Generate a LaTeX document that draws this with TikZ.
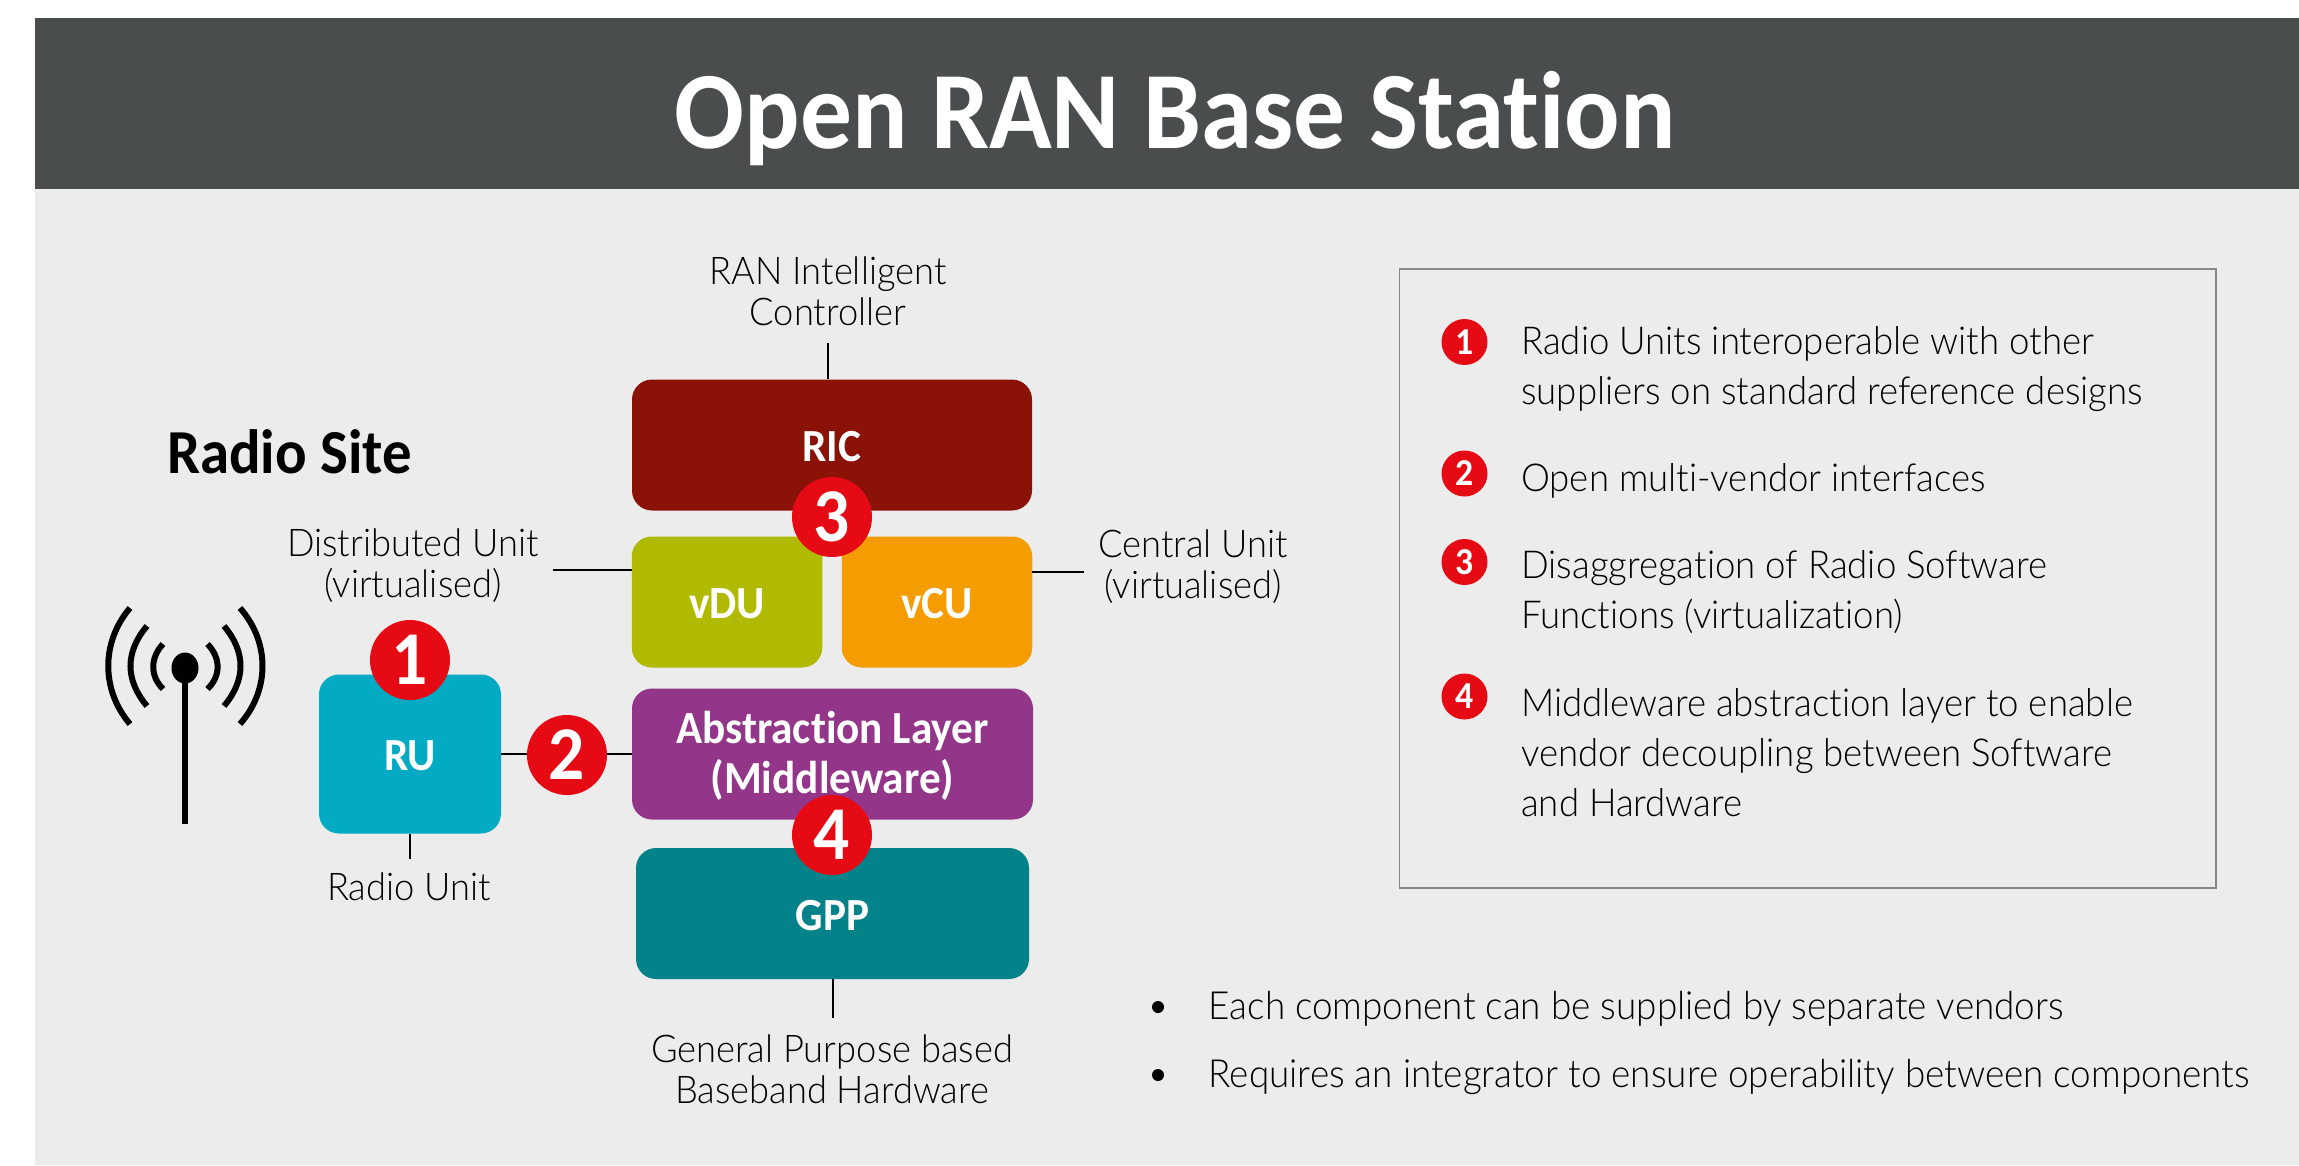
\documentclass[tikz,border=0pt]{standalone}
\usepackage{fontspec}
\usetikzlibrary{shapes.geometric}
\setmainfont{Lato Light}[FakeStretch=0.95,Ligatures=NoCommon]
\newfontfamily\crl{Carlito}[FakeStretch=0.94,Ligatures=NoCommon]
\newcommand{\bfnt}{\crl\bfseries}
\definecolor{hdr}{HTML}{4A4D4E}
\definecolor{panel}{HTML}{ECECEC}
\definecolor{ric}{HTML}{8A1206}
\definecolor{vdu}{HTML}{B0BA00}
\definecolor{vcu}{HTML}{F59D00}
\definecolor{abl}{HTML}{93368A}
\definecolor{gpp}{HTML}{04828A}
\definecolor{ruc}{HTML}{02AAC4}
\definecolor{vred}{HTML}{E60A14}
\definecolor{boxline}{HTML}{888888}
\tikzset{
 x=1pt,y=-1pt,
 boxn/.style={rectangle,rounded corners=20pt,inner sep=0pt,text=white,font=\bfnt\fontsize{46}{50}\selectfont,align=center},
 onel/.style={text height=33pt,text depth=0pt},
 badge/.style={circle,fill=vred,inner sep=0pt,minimum size=80pt,text=white,font=\bfnt\fontsize{76}{76}\selectfont},
 sbadge/.style={circle,fill=vred,inner sep=0pt,minimum size=46pt,text=white,font=\bfnt\fontsize{38}{38}\selectfont},
 lbl/.style={inner sep=0pt,align=center,text=black,font=\fontsize{38.2}{41}\selectfont},
 listt/.style={inner sep=0pt,anchor=west,align=left,text=black,font=\fontsize{38.5}{50}\selectfont},
 bullt/.style={listt,font=\fontsize{38.8}{50}\selectfont},
 conn/.style={draw=black,line width=2pt},
 wave/.style={draw=black,line width=6pt},
 dotn/.style={circle,fill=black,inner sep=0pt,minimum size=12pt},
}
\begin{document}
\begin{tikzpicture}
\useasboundingbox (0,0) rectangle (2299,1165);
\fill[panel] (35,189) rectangle (2299,1165);
\node[fill=hdr,inner sep=0pt,minimum width=2264pt,minimum height=171pt,anchor=north west] (header) at (35,18) {};
\node[anchor=base,inner sep=0pt,text=white,font=\bfnt\fontsize{110}{110}\selectfont] (title) at (1175,148) {Open RAN Base Station};
\node[anchor=base west,inner sep=0pt,text=black,font=\bfnt\fontsize{62.6}{62}\selectfont] (site) at (167,473) {Radio Site};
% boxes
\node[boxn,onel,fill=ric,minimum width=400pt,minimum height=131pt] (RIC) at (832,445) {RIC};
\node[boxn,onel,fill=vdu,minimum width=190.5pt,minimum height=131pt] (vDU) at (727,602) {vDU};
\node[boxn,onel,fill=vcu,minimum width=190.5pt,minimum height=131pt] (vCU) at (937,602) {vCU};
\node[boxn,fill=abl,minimum width=401pt,minimum height=131pt,text height=89pt,text depth=11pt] (AL) at (832.5,754) {Abstraction Layer\\(Middleware)};
\node[boxn,onel,fill=gpp,minimum width=393pt,minimum height=131pt] (GPP) at (832.5,913.5) {GPP};
\node[boxn,onel,fill=ruc,minimum width=182pt,minimum height=159pt] (RU) at (410,754) {RU};
% labels
\node[lbl] (ricl) at (828,291) {RAN Intelligent\\Controller};
\node[lbl] (dul) at (413,566) {Distributed Unit\\(virtualised)};
\node[lbl] (cul) at (1193,566.5) {Central Unit\\(virtualised)};
\node[lbl] (rul) at (409,887) {Radio Unit};
\node[lbl] (gppl) at (832,1069) {General Purpose based\\Baseband Hardware};
% connectors
\coordinate (ricend) at (828,343);
\coordinate (duend) at (553,570);
\coordinate (cuend) at (1083.5,572);
\coordinate (ruend) at (410,859);
\coordinate (gppend) at (832.5,1018);
\draw[conn] (ricend) -- (ricend |- RIC.north);
\draw[conn] (duend) -- (duend -| vDU.west);
\draw[conn] (cuend) -- (cuend -| vCU.east);
\draw[conn] (ruend) -- (RU.south);
\draw[conn] (gppend) -- (GPP.south);
\draw[conn] (RU.east) -- (AL.west);
% badges
\node[badge] (b1) at (410,660) {1};
\node[badge] (b2) at (567,755) {2};
\node[badge] (b3) at (832,517) {3};
\node[badge] (b4) at (832,835) {4};
% antenna
\node[ellipse,fill=black,inner sep=0pt,minimum width=27pt,minimum height=31pt] (dot) at (185,668) {};
\coordinate (poleend) at (185,824);
\draw[black,line width=5.5pt] (dot.center) -- (poleend);
\draw[wave] (130,608) .. controls (101,642) and (101,690) .. (130,724);
\draw[wave] (147,626) .. controls (125,652) and (125,680) .. (147,706);
\draw[wave] (163,644) .. controls (150,658) and (150,676) .. (163,689);
\draw[wave] (240,608) .. controls (270,642) and (270,690) .. (240,724);
\draw[wave] (224,626) .. controls (246,652) and (246,680) .. (224,706);
\draw[wave] (207.5,644) .. controls (221,658) and (221,676) .. (207.5,689);
% list box
\node[draw=boxline,line width=1.5pt,inner sep=0pt,minimum width=816.5pt,minimum height=619pt,anchor=north west] (lbox) at (1398.6,268) {};
\node[sbadge] (s1) at (1464.5,342) {1};
\node[sbadge] (s2) at (1464.5,473.5) {2};
\node[sbadge] (s3) at (1464.5,562) {3};
\node[sbadge] (s4) at (1464.5,696.5) {4};
\node[listt] (t1) at (1521,369) {Radio Units interoperable with other\\suppliers on standard reference designs};
\node[listt] (t2) at (1521,481) {Open multi-vendor interfaces};
\node[listt] (t3) at (1521,592) {Disaggregation of Radio Software\\Functions (virtualization)};
\node[listt] (t4) at (1521,753) {Middleware abstraction layer to enable\\vendor decoupling between Software\\and Hardware};
\node[dotn] (d1) at (1158,1007) {};
\node[dotn] (d2) at (1158,1075) {};
\node[bullt] (p1) at (1208.5,1009) {Each component can be supplied by separate vendors};
\node[bullt] (p2) at (1208.5,1077) {Requires an integrator to ensure operability between components};
\end{tikzpicture}
\end{document}
